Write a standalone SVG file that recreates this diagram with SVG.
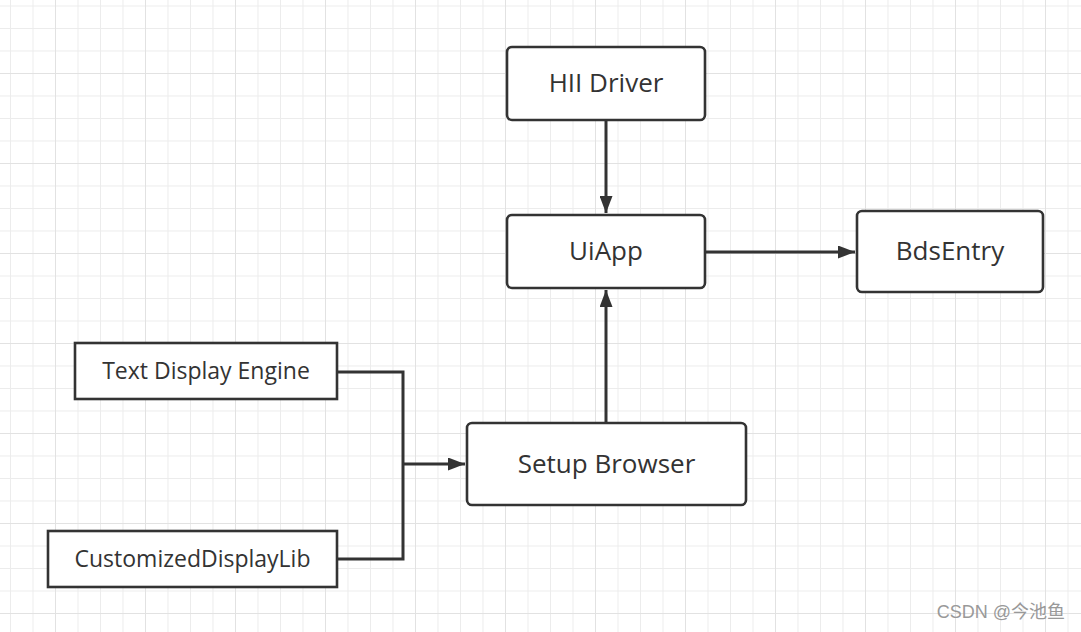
<svg xmlns="http://www.w3.org/2000/svg" width="1081" height="632" viewBox="0 0 1081 632">
<style>
.box{fill:#fff;stroke:#333;stroke-width:2.6}
.lbl{font-family:"Open Sans","Noto Sans",sans-serif;fill:#333;text-anchor:middle;dominant-baseline:central}
.big{font-size:26px}
.small{font-size:23px}
.edge{fill:none;stroke:#333;stroke-width:3}
</style>
<defs>
<pattern id="minor" x="10" y="5.5" width="22.5" height="22.5" patternUnits="userSpaceOnUse">
<path d="M0 0V22.5M0 0H22.5" fill="none" stroke="#ececec" stroke-width="2"/>
</pattern>
<pattern id="major" x="55" y="73" width="90" height="90" patternUnits="userSpaceOnUse">
<path d="M0 0V90M0 0H90" fill="none" stroke="#e2e2e2" stroke-width="2"/>
</pattern>
<marker id="arr" viewBox="0 0 17 13" refX="17" refY="6.5" markerWidth="17" markerHeight="13" markerUnits="userSpaceOnUse" orient="auto">
<path d="M0 0L17 6.5L0 13Z" fill="#333"/>
</marker>
</defs>
<rect width="1081" height="632" fill="#fff"/>
<rect width="1081" height="632" fill="url(#minor)"/>
<rect width="1081" height="632" fill="url(#major)"/>
<g id="connectors">
<path class="edge" d="M606 120V213" marker-end="url(#arr)"/>
<path class="edge" d="M705 252H855" marker-end="url(#arr)"/>
<path class="edge" d="M606 423V290" marker-end="url(#arr)"/>
<path class="edge" d="M337 372H403V559H337"/>
<path class="edge" d="M403 464H465" marker-end="url(#arr)"/>
</g>
<g id="hii-driver"><rect class="box" x="507" y="47" width="198" height="73" rx="5"/><text class="lbl big" x="606" y="82">HII Driver</text></g>
<g id="uiapp"><rect class="box" x="507" y="215" width="198" height="73" rx="5"/><text class="lbl big" x="606" y="250">UiApp</text></g>
<g id="bdsentry"><rect class="box" x="857" y="211" width="186" height="81" rx="5"/><text class="lbl big" x="950" y="250">BdsEntry</text></g>
<g id="text-display-engine"><rect class="box" x="75" y="343" width="262" height="56"/><text class="lbl small" x="206" y="370">Text Display Engine</text></g>
<g id="customized-display-lib"><rect class="box" x="48" y="531" width="289" height="56"/><text class="lbl small" x="192.5" y="558">CustomizedDisplayLib</text></g>
<g id="setup-browser"><rect class="box" x="467" y="423" width="279" height="82" rx="5"/><text class="lbl big" x="606.5" y="462.5">Setup Browser</text></g>
<text x="1065" y="612" font-family="Liberation Sans,'Noto Sans CJK SC',sans-serif" font-size="18" fill="#999" text-anchor="end" dominant-baseline="central">CSDN @今池鱼</text>
</svg>
